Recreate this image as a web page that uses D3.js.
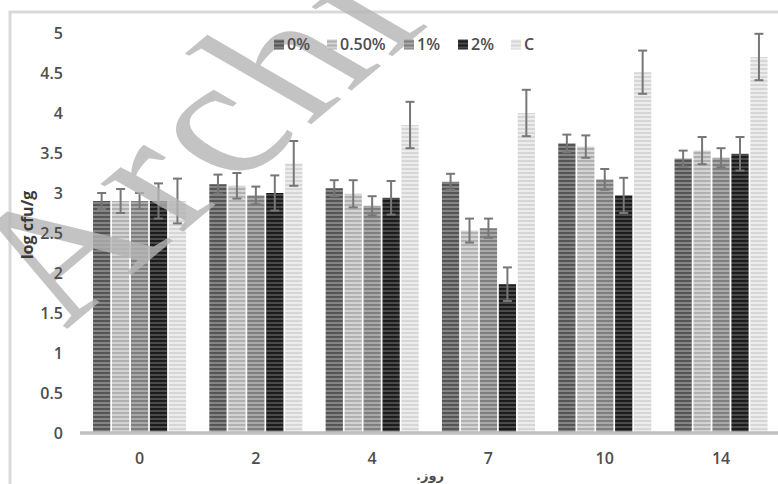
<!DOCTYPE html>
<html>
<head>
<meta charset="utf-8">
<script src="https://cdn.jsdelivr.net/npm/d3@7"></script>
<style>
  html, body { margin: 0; padding: 0; background: #fff; }
  svg { display: block; }
</style>
</head>
<body>
<svg id="chart" width="778" height="484"></svg>
<script>
// ---- data ----
const categories = ["0", "2", "4", "7", "10", "14"];
const seriesNames = ["0%", "0.50%", "1%", "2%", "C"];
const values0   = [2.90, 3.11, 3.06, 3.14, 3.62, 3.43];
const values050 = [2.90, 3.09, 2.99, 2.53, 3.58, 3.53];
const values1   = [2.90, 2.97, 2.84, 2.56, 3.17, 3.44];
const values2   = [2.90, 3.00, 2.94, 1.86, 2.97, 3.49];
const valuesC   = [2.90, 3.37, 3.85, 4.00, 4.51, 4.70];
const err0   = [0.10, 0.12, 0.10, 0.10, 0.11, 0.10];
const err050 = [0.15, 0.16, 0.17, 0.15, 0.14, 0.17];
const err1   = [0.10, 0.11, 0.12, 0.12, 0.13, 0.12];
const err2   = [0.22, 0.22, 0.21, 0.21, 0.22, 0.21];
const errC   = [0.28, 0.28, 0.29, 0.29, 0.27, 0.29];
const yTicks = [0, 0.5, 1, 1.5, 2, 2.5, 3, 3.5, 4, 4.5, 5];
const yTitle = "log cfu/g";
const xTitle = "روز.";
const watermark = "Archive";

const seriesValues = [values0, values050, values1, values2, valuesC];
const seriesErrors = [err0, err050, err1, err2, errC];

// ---- styles ----
const stripeColors = [
  ["#555555", "#858585"],
  ["#b0b0b0", "#d4d4d4"],
  ["#7e7e7e", "#a8a8a8"],
  ["#1c1c1c", "#4a4a4a"],
  ["#d6d6d6", "#ececec"]
];

const svg = d3.select("#chart");
const defs = svg.append("defs");
stripeColors.forEach((c, i) => {
  const p = defs.append("pattern")
    .attr("id", "pat" + i)
    .attr("patternUnits", "userSpaceOnUse")
    .attr("width", 20).attr("height", 4);
  p.append("rect").attr("width", 20).attr("height", 4).attr("fill", c[1]);
  p.append("rect").attr("width", 20).attr("height", 2).attr("fill", c[0]);
});

// outer border (cropped chart frame)
svg.append("path")
  .attr("d", "M10,484 L10,12 L778,12")
  .attr("fill", "none").attr("stroke", "#d9d9d9").attr("stroke-width", 3);

const y = d3.scaleLinear().domain([0, 5]).range([433, 33]);
const x0 = d3.scaleBand().domain(categories).range([81.4, 779.2])
  .paddingInner(0.2).paddingOuter(0.1);
const x1 = d3.scaleBand().domain(seriesNames).range([0, x0.bandwidth()])
  .paddingInner(0.09).paddingOuter(0);

const font = "'Open Sans', 'DejaVu Sans', sans-serif";

// bars
const groups = svg.append("g").selectAll("g").data(categories).join("g")
  .attr("transform", d => `translate(${x0(d)},0)`);

seriesNames.forEach((s, si) => {
  groups.append("rect")
    .attr("x", x1(s))
    .attr("width", x1.bandwidth())
    .attr("y", (d, ci) => y(seriesValues[si][ci]))
    .attr("height", (d, ci) => y(0) - y(seriesValues[si][ci]))
    .attr("fill", `url(#pat${si})`);
});

// watermark (over bars, under error bars and texts)
svg.append("text")
  .attr("transform", "translate(66,330) rotate(-40) skewX(20)")
  .attr("font-family", "'Liberation Serif', 'DejaVu Serif', serif")
  .attr("font-size", 195)
  .attr("letter-spacing", 8)
  .attr("fill", "#b4b4b4").attr("fill-opacity", 0.8)
  .text(watermark);

// error bars
seriesNames.forEach((s, si) => {
  const cx = x1(s) + x1.bandwidth() / 2;
  const eg = groups.append("g").attr("stroke", "#777777").attr("stroke-width", 2);
  eg.append("line")
    .attr("x1", cx).attr("x2", cx)
    .attr("y1", (d, ci) => y(seriesValues[si][ci] + seriesErrors[si][ci]))
    .attr("y2", (d, ci) => y(seriesValues[si][ci] - seriesErrors[si][ci]));
  eg.append("line")
    .attr("x1", cx - 4.5).attr("x2", cx + 4.5)
    .attr("y1", (d, ci) => y(seriesValues[si][ci] + seriesErrors[si][ci]))
    .attr("y2", (d, ci) => y(seriesValues[si][ci] + seriesErrors[si][ci]));
  eg.append("line")
    .attr("x1", cx - 4.5).attr("x2", cx + 4.5)
    .attr("y1", (d, ci) => y(seriesValues[si][ci] - seriesErrors[si][ci]))
    .attr("y2", (d, ci) => y(seriesValues[si][ci] - seriesErrors[si][ci]));
});

// x axis line
svg.append("line")
  .attr("x1", 80).attr("x2", 778)
  .attr("y1", y(0)).attr("y2", y(0))
  .attr("stroke", "#bfbfbf").attr("stroke-width", 3.5);

// y axis labels
svg.append("g").selectAll("text").data(yTicks).join("text")
  .attr("x", 63).attr("y", d => y(d))
  .attr("dy", "0.35em")
  .attr("text-anchor", "end")
  .attr("font-family", font).attr("font-size", 16).attr("font-weight", 600)
  .attr("fill", "#4d4d4d")
  .text(d => d);

// x tick labels
svg.append("g").selectAll("text").data(categories).join("text")
  .attr("x", d => x0(d) + x0.bandwidth() / 2)
  .attr("y", 458).attr("dy", "0.35em")
  .attr("text-anchor", "middle")
  .attr("font-family", font).attr("font-size", 16).attr("font-weight", 600)
  .attr("fill", "#4d4d4d")
  .text(d => d);

// axis titles
svg.append("text")
  .attr("transform", "translate(27,225) rotate(-90)")
  .attr("text-anchor", "middle").attr("dy", "0.35em")
  .attr("font-family", font).attr("font-size", 16).attr("font-weight", 700)
  .attr("fill", "#3a3a3a")
  .text(yTitle);

svg.append("text")
  .attr("x", 430).attr("y", 475).attr("dy", "0.35em")
  .attr("direction", "rtl").attr("text-anchor", "middle")
  .attr("font-family", "'DejaVu Sans', sans-serif").attr("font-size", 13).attr("font-weight", 700)
  .attr("fill", "#4d4d4d")
  .text(xTitle);

// legend
const legendX = [274, 327, 404, 458, 511];
const lg = svg.append("g").selectAll("g").data(seriesNames).join("g")
  .attr("transform", (d, i) => `translate(${legendX[i]},44.5)`);
lg.append("rect").attr("x", 0).attr("y", -5).attr("width", 10).attr("height", 10)
  .attr("fill", (d, i) => `url(#pat${i})`);
lg.append("text").attr("x", 13).attr("dy", "0.35em")
  .attr("font-family", font).attr("font-size", 16).attr("font-weight", 600)
  .attr("fill", "#4d4d4d")
  .text(d => d);
</script>
</body>
</html>
